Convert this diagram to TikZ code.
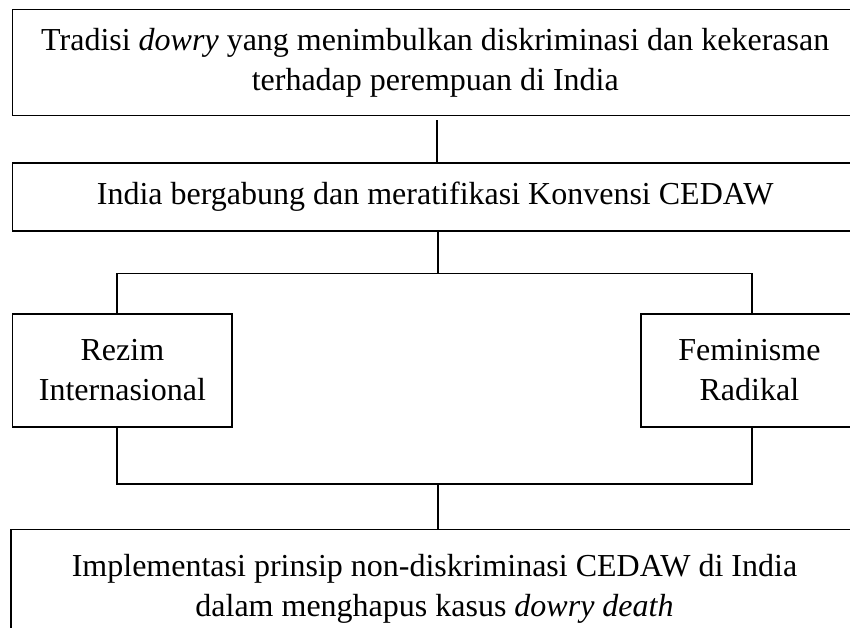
\documentclass[tikz,border=0pt]{standalone}
\usepackage{fontspec}
\setmainfont{Liberation Serif}
\tikzset{
  box/.style={draw, line width=1.8pt, inner sep=0pt, outer sep=0pt, align=center,
    font=\fontsize{32}{40}\selectfont},
  conn/.style={line width=1.8pt}
}
\begin{document}
\begin{tikzpicture}[x=1pt,y=-1pt]
\useasboundingbox (0,0) rectangle (850,628);
\clip (0,0) rectangle (850,628);
\node[box, minimum width=845.5pt, minimum height=106pt] (top) at (435.25,62.5)
  {Tradisi \textit{dowry} yang menimbulkan diskriminasi dan kekerasan\\terhadap perempuan di India};
\node[box, minimum width=845.5pt, minimum height=68pt] (mid) at (435.25,197)
  {India bergabung dan meratifikasi Konvensi CEDAW};
\node[box, minimum width=219.8pt, minimum height=113pt] (left) at (122.4,370.5)
  {Rezim\\Internasional};
\node[box, minimum width=217.3pt, minimum height=113pt] (right) at (749.35,370.5)
  {Feminisme\\Radikal};
\node[box, minimum width=847pt, minimum height=118pt] (bottom) at (434.5,588.5)
  {Implementasi prinsip non-diskriminasi CEDAW di India\\dalam menghapus kasus \textit{dowry death}};
\coordinate (cl) at (117.3,273.5);
\coordinate (cr) at (751.7,273.5);
\coordinate (jt) at (438,273.5);
\coordinate (bl) at (117.3,484.3);
\coordinate (br) at (751.7,484.3);
\coordinate (jb) at (438,484.3);
\draw[conn, shorten <=5pt] ([xshift=1.5pt]top.south) -- ([xshift=1.5pt]mid.north);
\draw[conn] (mid.south -| jt) -- (jt);
\draw[conn] (left.north -| cl) -- (cl) -- (cr) -- (right.north -| cr);
\draw[conn] (left.south -| bl) -- (bl) -- (br) -- (right.south -| br);
\draw[conn] (jb) -- (bottom.north -| jb);
\end{tikzpicture}
\end{document}
